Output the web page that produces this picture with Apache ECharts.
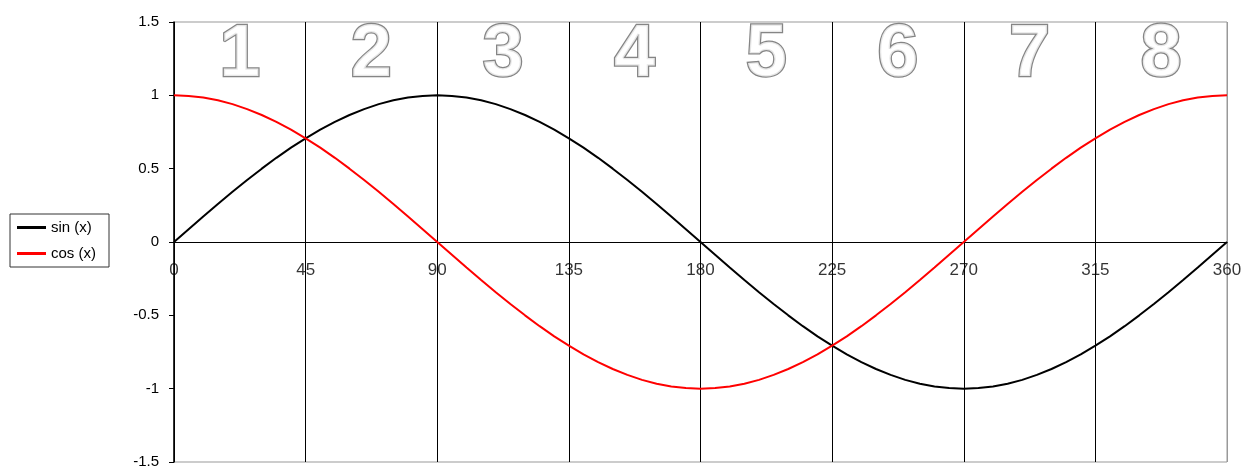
<!DOCTYPE html>
<html>
<head>
<meta charset="utf-8">
<script src="https://cdn.jsdelivr.net/npm/echarts@6/dist/echarts.min.js"></script>
<style>
  html, body { margin: 0; padding: 0; background: #fff; }
  #chart { width: 1241px; height: 469px; }
</style>
</head>
<body>
<div id="chart"></div>
<script>
// angle in degrees, 5 degree steps
const degrees = [
  0, 5, 10, 15, 20, 25, 30, 35, 40, 45, 50, 55, 60, 65, 70, 75, 80, 85, 90,
  95, 100, 105, 110, 115, 120, 125, 130, 135, 140, 145, 150, 155, 160, 165, 170, 175, 180,
  185, 190, 195, 200, 205, 210, 215, 220, 225, 230, 235, 240, 245, 250, 255, 260, 265, 270,
  275, 280, 285, 290, 295, 300, 305, 310, 315, 320, 325, 330, 335, 340, 345, 350, 355, 360
];

const sinValues = [
  0, 0.087, 0.174, 0.259, 0.342, 0.423, 0.5, 0.574, 0.643, 0.707, 0.766, 0.819, 0.866, 0.906, 0.94, 0.966, 0.985, 0.996, 1,
  0.996, 0.985, 0.966, 0.94, 0.906, 0.866, 0.819, 0.766, 0.707, 0.643, 0.574, 0.5, 0.423, 0.342, 0.259, 0.174, 0.087, 0,
  -0.087, -0.174, -0.259, -0.342, -0.423, -0.5, -0.574, -0.643, -0.707, -0.766, -0.819, -0.866, -0.906, -0.94, -0.966, -0.985, -0.996, -1,
  -0.996, -0.985, -0.966, -0.94, -0.906, -0.866, -0.819, -0.766, -0.707, -0.643, -0.574, -0.5, -0.423, -0.342, -0.259, -0.174, -0.087, 0
];

const cosValues = [
  1, 0.996, 0.985, 0.966, 0.94, 0.906, 0.866, 0.819, 0.766, 0.707, 0.643, 0.574, 0.5, 0.423, 0.342, 0.259, 0.174, 0.087, 0,
  -0.087, -0.174, -0.259, -0.342, -0.423, -0.5, -0.574, -0.643, -0.707, -0.766, -0.819, -0.866, -0.906, -0.94, -0.966, -0.985, -0.996, -1,
  -0.996, -0.985, -0.966, -0.94, -0.906, -0.866, -0.819, -0.766, -0.707, -0.643, -0.574, -0.5, -0.423, -0.342, -0.259, -0.174, -0.087, 0,
  0.087, 0.174, 0.259, 0.342, 0.423, 0.5, 0.574, 0.643, 0.707, 0.766, 0.819, 0.866, 0.906, 0.94, 0.966, 0.985, 0.996, 1
];

// x tick labels sit on the zero line, not at the bottom of the plot
const xTicks = [0, 45, 90, 135, 180, 225, 270, 315, 360];

// big outlined section numbers, one per 45 degree slice
const sectionLabels = ["1", "2", "3", "4", "5", "6", "7", "8"];
const sectionCenters = [22.5, 67.5, 112.5, 157.5, 202.5, 247.5, 292.5, 337.5];
const sectionLevel = 1.27;

const seriesNames = ["sin (x)", "cos (x)"];
const seriesColors = ["#000", "#f00"];

const chart = echarts.init(document.getElementById("chart"));
const font = "'Liberation Sans', Arial, sans-serif";

chart.setOption({
  backgroundColor: "#fff",
  animation: false,
  grid: {
    left: 174,
    right: 14,
    top: 22,
    bottom: 7,
    containLabel: false,
    outerBoundsMode: "none",
    show: true,
    borderColor: "#999",
    borderWidth: 1,
  },
  legend: {
    data: seriesNames.map((n) => ({ name: n, icon: "rect" })),
    orient: "vertical",
    left: 10,
    top: 214,
    padding: [6, 13, 6, 7],
    itemGap: 11,
    itemWidth: 29,
    itemHeight: 3,
    borderColor: "#333",
    borderWidth: 1,
    textStyle: { fontFamily: font, fontSize: 15, color: "#000" },
  },
  xAxis: {
    type: "value",
    min: 0,
    max: 360,
    interval: 45,
    axisLine: { onZero: true, lineStyle: { color: "#000", width: 1 } },
    axisTick: { show: false },
    axisLabel: { show: false },
    splitLine: {
      show: true,
      lineStyle: {
        color: ["#000", "#000", "#000", "#000", "#000", "#000", "#000", "#000", "#999"],
        width: 1,
      },
    },
  },
  yAxis: {
    type: "value",
    min: -1.5,
    max: 1.5,
    interval: 0.5,
    axisLine: { show: true, onZero: false, lineStyle: { color: "#000", width: 1.5 } },
    axisTick: { show: true, inside: false, length: 5, lineStyle: { color: "#000" } },
    axisLabel: { margin: 15, fontFamily: font, fontSize: 15, color: "#000" },
    splitLine: { show: false },
  },
  series: [
    {
      name: "sections",
      type: "scatter",
      symbolSize: 0,
      silent: true,
      z: 1,
      data: sectionLabels.map((t, i) => [sectionCenters[i], sectionLevel, t]),
      label: {
        show: true,
        position: "inside",
        formatter: (p) => p.value[2],
        fontFamily: font,
        fontWeight: "bold",
        fontSize: 74,
        color: "#fff",
        textBorderColor: "#666",
        textBorderWidth: 2.5,
      },
    },
    {
      name: "xTicks",
      type: "scatter",
      symbolSize: 0,
      silent: true,
      z: 1,
      data: xTicks.map((d) => [d, 0]),
      label: {
        show: true,
        position: "bottom",
        distance: 20,
        formatter: (p) => String(p.value[0]),
        fontFamily: font,
        fontSize: 17,
        color: "#000",
      },
    },
    {
      name: seriesNames[0],
      type: "line",
      symbol: "none",
      data: degrees.map((d, i) => [d, sinValues[i]]),
      lineStyle: { color: seriesColors[0], width: 2 },
      itemStyle: { color: seriesColors[0] },
      z: 3,
    },
    {
      name: seriesNames[1],
      type: "line",
      symbol: "none",
      data: degrees.map((d, i) => [d, cosValues[i]]),
      lineStyle: { color: seriesColors[1], width: 2 },
      itemStyle: { color: seriesColors[1] },
      z: 4,
    },
  ],
});
</script>
</body>
</html>
